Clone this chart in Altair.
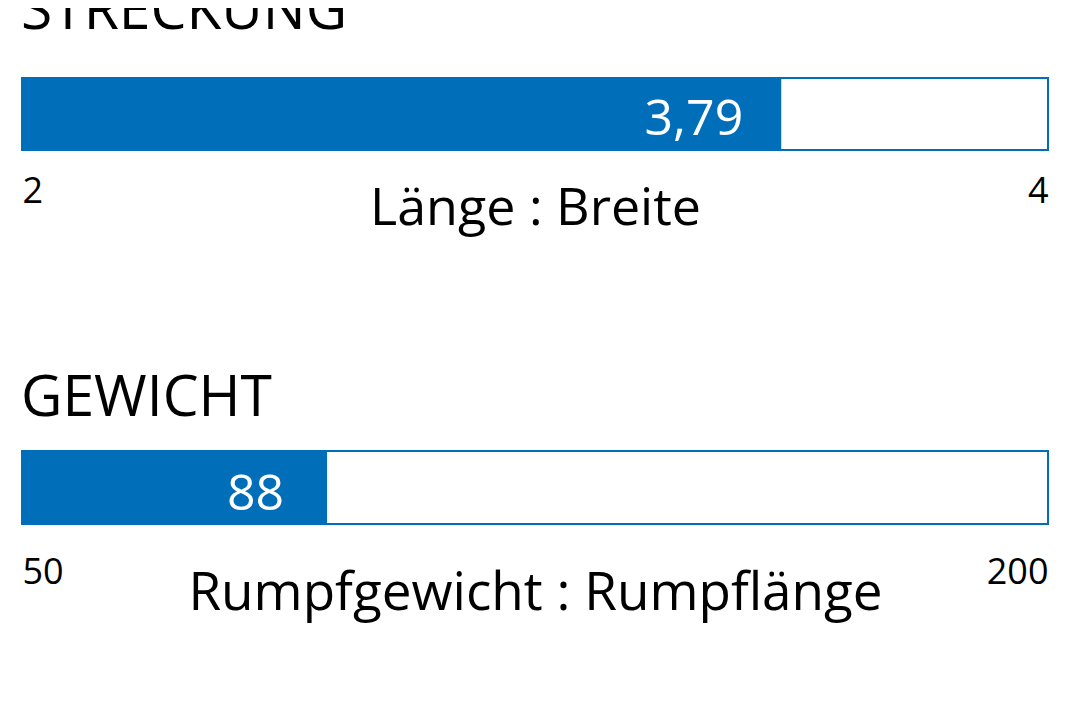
import altair as alt
import pandas as pd

# ---- data ----
titles = ["STRECKUNG", "GEWICHT"]
axis_titles = ["Länge : Breite", "Rumpfgewicht : Rumpflänge"]
scale_min = [2, 50]
scale_max = [4, 200]
value_labels = ["3,79", "88"]
# end of the filled part as drawn, read on each bar's own scale
fill_end = [3.48, 94.6]

BLUE = "#006EB9"
FONT = "Open Sans"
TITLE_OFFSETS = [36, 22]
LABEL_Y = [57, 59]
LABEL_DX = [-38, -43]
LABEL_PAD = [24, 31]
TITLE_PAD = [-26, -23]
HEIGHTS = [72, 73]
AXIS_TITLE_SIZE = [52, 53]


def panel(i):
    df = pd.DataFrame({
        "lo": [scale_min[i]],
        "hi": [scale_max[i]],
        "val": [fill_end[i]],
        "label": [value_labels[i]],
    })
    xs = alt.Scale(domain=[scale_min[i], scale_max[i]], nice=False, zero=False)
    base = alt.Chart(df)
    frame = base.mark_rect(fill="white", stroke=BLUE, strokeWidth=2).encode(
        x=alt.X("lo:Q", scale=xs,
                axis=alt.Axis(values=[scale_min[i], scale_max[i]], format="d",
                              title=axis_titles[i], labelFlush=True,
                              domain=False, ticks=False, grid=False,
                              labelFontSize=36, labelFont=FONT,
                              labelColor="black", labelPadding=LABEL_PAD[i],
                              titleFontSize=AXIS_TITLE_SIZE[i], titleFont=FONT,
                              titleFontWeight="normal", titleColor="black",
                              titlePadding=TITLE_PAD[i])),
        x2="hi:Q",
    )
    fill = base.mark_rect(fill=BLUE).encode(x="lo:Q", x2="val:Q")
    text = base.mark_text(align="right", baseline="alphabetic", dx=LABEL_DX[i],
                          color="white", fontSize=50, font=FONT).encode(
        x="val:Q", y=alt.value(LABEL_Y[i]), text="label:N")
    return alt.layer(frame, fill, text).properties(
        width=1026, height=HEIGHTS[i],
        title=alt.TitleParams(titles[i], anchor="start", font=FONT,
                              fontSize=57, fontWeight="normal", color="black",
                              offset=TITLE_OFFSETS[i]),
    )


chart = alt.vconcat(panel(0), panel(1), spacing=134).properties(
    padding={"left": 12, "top": -26, "right": 10, "bottom": 40}
).configure_view(stroke=None).configure(background="white")

chart.save("out.html", embed_options={"renderer": "svg", "actions": False})
